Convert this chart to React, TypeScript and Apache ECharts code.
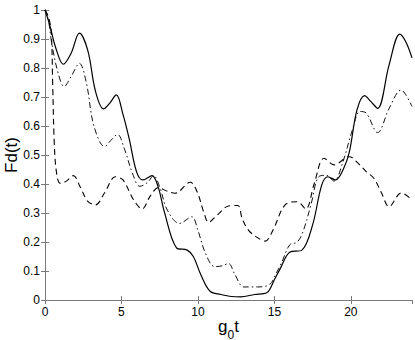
import React, { useEffect, useRef } from 'react';
import * as echarts from 'echarts';

const xTicks = [0, 5, 10, 15, 20];
const xMax = 24;

const solidT = [0, 0.3, 0.7, 1.2, 1.7, 2.25, 2.8, 3.3, 3.83, 4.25, 4.66, 5.1, 5.5, 6.0, 6.4, 7.0, 7.4, 7.8, 8.6, 9.3, 9.7, 10.2, 10.8, 11.5, 12.2, 12.8, 13.7, 14.5, 15.0, 15.4, 16.0, 16.8, 17.5, 18.1, 18.5, 19.0, 19.5, 19.9, 20.4, 20.9, 21.3, 21.75, 22.5, 23.2, 23.6, 24];
const solidV = [1, 0.95, 0.87, 0.813, 0.85, 0.92, 0.86, 0.72, 0.659, 0.68, 0.707, 0.64, 0.557, 0.44, 0.414, 0.429, 0.39, 0.305, 0.18, 0.172, 0.15, 0.086, 0.03, 0.019, 0.012, 0.011, 0.019, 0.025, 0.07, 0.11, 0.165, 0.172, 0.259, 0.397, 0.425, 0.414, 0.45, 0.51, 0.655, 0.705, 0.685, 0.661, 0.81, 0.917, 0.89, 0.835];

const dashDotT = [0, 0.22, 0.44, 0.87, 1.25, 1.7, 2.25, 2.7, 3.2, 3.9, 4.3, 4.74, 5.2, 5.7, 6.2, 6.7, 7.1, 7.5, 8.0, 8.8, 9.6, 10.0, 10.5, 11.1, 11.6, 12.0, 12.4, 13.0, 13.9, 14.7, 15.1, 15.5, 16.0, 16.5, 16.9, 17.4, 17.9, 18.4, 18.9, 19.45, 20.1, 20.6, 21.0, 21.75, 22.5, 23.28, 24];
const dashDotV = [1, 0.966, 0.885, 0.78, 0.736, 0.77, 0.816, 0.75, 0.6, 0.529, 0.55, 0.571, 0.52, 0.44, 0.392, 0.405, 0.429, 0.39, 0.31, 0.264, 0.287, 0.24, 0.16, 0.115, 0.118, 0.126, 0.09, 0.045, 0.045, 0.054, 0.09, 0.132, 0.19, 0.2, 0.24, 0.33, 0.425, 0.43, 0.41, 0.471, 0.586, 0.65, 0.645, 0.577, 0.66, 0.724, 0.667];

const dashedT = [0, 0.2, 0.4, 0.5, 0.6, 0.75, 1.0, 1.4, 1.86, 2.3, 2.8, 3.3, 3.9, 4.6, 5.1, 5.8, 6.35, 6.9, 7.4, 8.0, 8.5, 9.5, 9.95, 10.4, 10.7, 11.26, 12.0, 12.6, 12.9, 13.3, 13.9, 14.4, 14.9, 15.7, 16.5, 17.05, 17.6, 18.25, 18.9, 19.9, 20.5, 21.0, 21.5, 22.0, 22.5, 23.3, 24];
const dashedV = [1, 0.98, 0.93, 0.75, 0.55, 0.44, 0.402, 0.41, 0.429, 0.39, 0.34, 0.328, 0.37, 0.425, 0.414, 0.345, 0.314, 0.36, 0.387, 0.375, 0.368, 0.406, 0.373, 0.3, 0.268, 0.293, 0.324, 0.326, 0.28, 0.241, 0.215, 0.203, 0.24, 0.328, 0.339, 0.314, 0.4, 0.489, 0.466, 0.494, 0.47, 0.443, 0.42, 0.37, 0.322, 0.369, 0.345];

const FONT = '"Liberation Sans", Arial, Helvetica, sans-serif';

function pairs(t: number[], v: number[]) {
  return t.map((x, i) => [x, v[i]]);
}

export default function App() {
  const ref = useRef<HTMLDivElement>(null);
  useEffect(() => {
    document.body.style.margin = '0';
    const chart = echarts.init(ref.current!, undefined, { renderer: 'svg' });
    const gray = '#7a7a7a';
    const baseX = {
      type: 'value' as const,
      min: 0,
      max: xMax,
      interval: 5,
      splitLine: { show: false },
    };
    const baseY = {
      type: 'value' as const,
      min: 0,
      max: 1,
      interval: 0.1,
      splitLine: { show: false },
    };
    chart.setOption({
      animation: false,
      backgroundColor: '#ffffff',
      grid: { left: 45, right: 3, top: 10, bottom: 40, containLabel: false, outerBoundsMode: 'none' },
      xAxis: [
        {
          ...baseX,
          position: 'bottom',
          axisLine: { show: true, lineStyle: { color: gray, width: 1 } },
          axisTick: { show: true, inside: true, length: 4, lineStyle: { color: gray } },
          axisLabel: {
            show: true,
            color: '#000',
            fontSize: 12,
            fontFamily: FONT,
            margin: 6,
            showMaxLabel: false,
            formatter: (v: number) => (xTicks.indexOf(v) >= 0 ? String(v) : ''),
          },
          name: '{a|g}{b|0}{a|t}',
          nameLocation: 'middle',
          nameGap: 18,
          nameMoveOverlap: false,
          nameTextStyle: {
            rich: {
              a: { fontSize: 17, fontFamily: FONT, color: '#000', verticalAlign: 'top', lineHeight: 20 },
              b: { fontSize: 12, fontFamily: FONT, color: '#000', verticalAlign: 'bottom', lineHeight: 14, padding: [0, 0, -3, 0] },
            },
          },
        },
        {
          ...baseX,
          position: 'top',
          axisLine: { show: true, lineStyle: { color: gray, width: 1 } },
          axisTick: { show: true, inside: true, length: 4, lineStyle: { color: gray } },
          axisLabel: { show: false },
        },
      ],
      yAxis: [
        {
          ...baseY,
          position: 'left',
          axisLine: { show: true, lineStyle: { color: '#000', width: 1 } },
          axisTick: { show: true, inside: true, length: 4, lineStyle: { color: gray } },
          axisLabel: { show: true, color: '#000', fontSize: 12, fontFamily: FONT, margin: 5 },
          name: 'Fd(t)',
          nameLocation: 'middle',
          nameGap: 25,
          nameMoveOverlap: false,
          nameTextStyle: { fontSize: 17, fontFamily: FONT, color: '#000' },
        },
        {
          ...baseY,
          position: 'right',
          axisLine: { show: true, lineStyle: { color: gray, width: 1 } },
          axisTick: { show: true, inside: true, length: 4, lineStyle: { color: gray } },
          axisLabel: { show: false },
        },
      ],
      series: [
        {
          type: 'line',
          data: pairs(solidT, solidV),
          smooth: 0.35,
          showSymbol: false,
          lineStyle: { color: '#000', width: 1.2, type: 'solid' },
          xAxisIndex: 0,
          yAxisIndex: 0,
        },
        {
          type: 'line',
          data: pairs(dashDotT, dashDotV),
          smooth: 0.35,
          showSymbol: false,
          lineStyle: { color: '#111', width: 1, type: [6, 3, 1.5, 3] },
          xAxisIndex: 0,
          yAxisIndex: 0,
        },
        {
          type: 'line',
          data: pairs(dashedT, dashedV),
          smooth: 0.35,
          showSymbol: false,
          lineStyle: { color: '#000', width: 1.1, type: [6, 4] },
          xAxisIndex: 0,
          yAxisIndex: 0,
        },
      ],
    });
    return () => chart.dispose();
  }, []);
  return <div ref={ref} style={{ position: 'fixed', left: 0, top: 0, width: 415, height: 340 }} />;
}
